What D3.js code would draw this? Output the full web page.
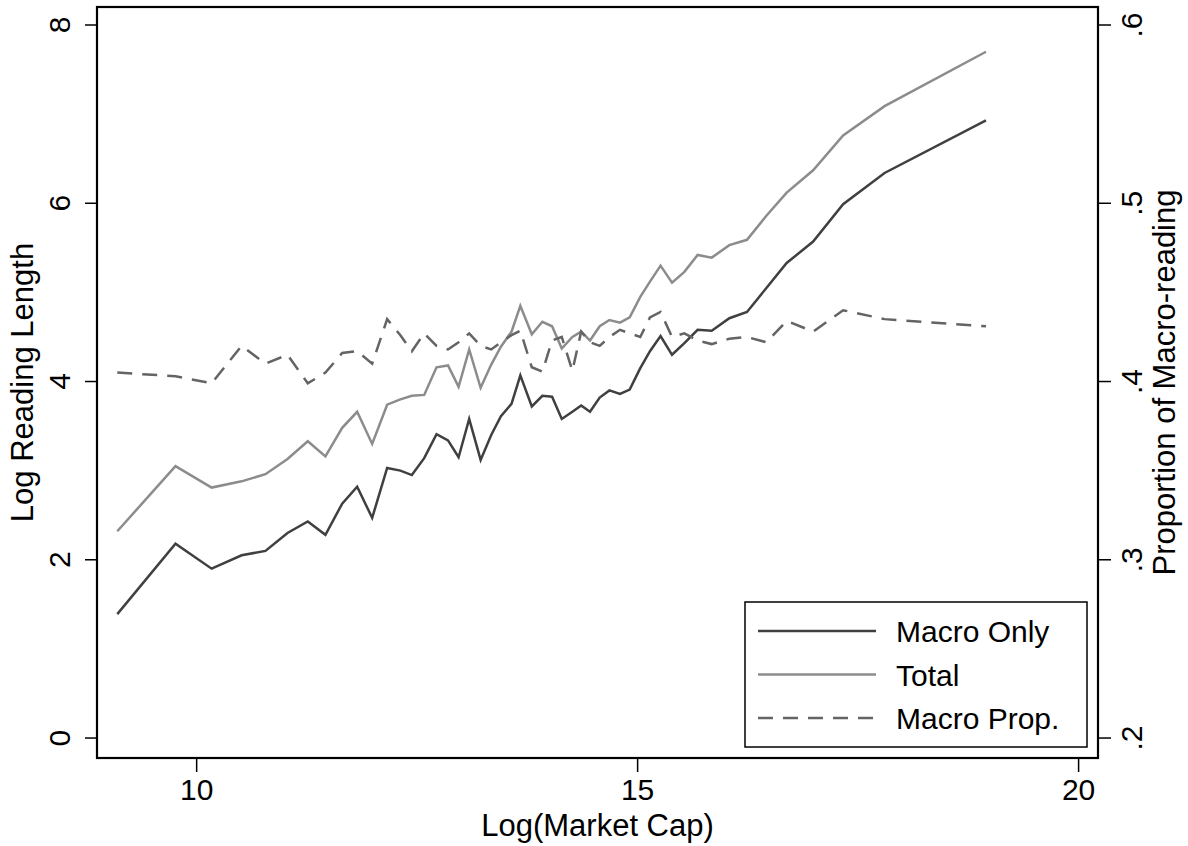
<!DOCTYPE html>
<html>
<head>
<meta charset="utf-8">
<script src="https://cdn.jsdelivr.net/npm/d3@7"></script>
<style>
  body { margin: 0; background: #fff; }
  text { font-family: "Liberation Sans", Arial, sans-serif; fill: #000; }
</style>
</head>
<body>
<script>
// log market cap bins
const logCap = [9.10, 9.76, 10.17, 10.51, 10.78, 11.03, 11.26, 11.46, 11.65, 11.82,
  11.99, 12.16, 12.31, 12.44, 12.58, 12.72, 12.85, 12.97, 13.09, 13.22,
  13.34, 13.45, 13.57, 13.67, 13.80, 13.92, 14.03, 14.14, 14.26, 14.36,
  14.46, 14.57, 14.68, 14.80, 14.91, 15.03, 15.14, 15.26, 15.39, 15.53,
  15.68, 15.84, 16.04, 16.24, 16.46, 16.69, 16.99, 17.33, 17.80, 18.95]

const macroOnly = [1.39, 2.18, 1.90, 2.05, 2.10, 2.30, 2.43, 2.28, 2.63, 2.82,
  2.47, 3.03, 3.00, 2.95, 3.14, 3.41, 3.34, 3.15, 3.58, 3.12,
  3.40, 3.61, 3.75, 4.07, 3.72, 3.84, 3.83, 3.58, 3.66, 3.73,
  3.66, 3.82, 3.90, 3.86, 3.91, 4.15, 4.34, 4.51, 4.30, 4.43,
  4.58, 4.57, 4.71, 4.78, 5.05, 5.33, 5.57, 5.99, 6.34, 6.93]

const total = [2.32, 3.05, 2.81, 2.88, 2.96, 3.13, 3.33, 3.16, 3.48, 3.66,
  3.30, 3.74, 3.80, 3.84, 3.85, 4.16, 4.18, 3.94, 4.36, 3.93,
  4.19, 4.39, 4.56, 4.85, 4.53, 4.67, 4.62, 4.37, 4.50, 4.56,
  4.46, 4.62, 4.69, 4.66, 4.72, 4.95, 5.12, 5.30, 5.11, 5.23,
  5.42, 5.39, 5.53, 5.59, 5.86, 6.12, 6.37, 6.76, 7.09, 7.70]

const macroProp = [0.405, 0.403, 0.399, 0.420, 0.410, 0.415, 0.399, 0.405, 0.416, 0.417,
  0.410, 0.435, 0.426, 0.417, 0.427, 0.420, 0.418, 0.422, 0.427, 0.420,
  0.418, 0.422, 0.426, 0.4285, 0.408, 0.4055, 0.423, 0.425, 0.406, 0.428,
  0.422, 0.420, 0.425, 0.429, 0.427, 0.425, 0.436, 0.439, 0.425, 0.427,
  0.423, 0.421, 0.424, 0.425, 0.422, 0.434, 0.428, 0.440, 0.435, 0.431]

const xTicks = [10, 15, 20]
const yTicks = [0, 2, 4, 6, 8]
const propTicks = [0.2, 0.3, 0.4, 0.5, 0.6]
const propLabels = ['.2', '.3', '.4', '.5', '.6']
const legendNames = ['Macro Only', 'Total', 'Macro Prop.']

const W = 1188, H = 846
const pLeft = 97, pRight = 1098, pTop = 7, pBottom = 758

const x = d3.scaleLinear().domain([8.87, 20.22]).range([pLeft, pRight])
const y = d3.scaleLinear().domain([-0.224, 8.202]).range([pBottom, pTop])
const y2 = d3.scaleLinear().domain([0.1888, 0.6101]).range([pBottom, pTop])

const svg = d3.select('body').append('svg').attr('width', W).attr('height', H)

const styles = [
  { color: '#404040', dash: null },
  { color: '#8c8c8c', dash: null },
  { color: '#646464', dash: '15,10' }
]

// lines
const line1 = d3.line().x((d, i) => x(logCap[i])).y(d => y(d))
const line2 = d3.line().x((d, i) => x(logCap[i])).y(d => y2(d))

svg.append('path').datum(macroOnly)
    .attr('d', line1)
    .attr('fill', 'none').attr('stroke', styles[0].color).attr('stroke-width', 2.5)
svg.append('path').datum(total)
    .attr('d', line1)
    .attr('fill', 'none').attr('stroke', styles[1].color).attr('stroke-width', 2.5)
svg.append('path').datum(macroProp)
    .attr('d', line2)
    .attr('fill', 'none').attr('stroke', styles[2].color).attr('stroke-width', 2.5)
    .attr('stroke-dasharray', styles[2].dash)

// frame
svg.append('rect')
    .attr('x', pLeft).attr('y', pTop)
    .attr('width', pRight - pLeft).attr('height', pBottom - pTop)
    .attr('fill', 'none').attr('stroke', '#000').attr('stroke-width', 2.2)

// x axis ticks
const xAxis = svg.append('g')
xAxis.selectAll('line').data(xTicks).enter().append('line')
    .attr('x1', d => x(d)).attr('x2', d => x(d))
    .attr('y1', pBottom).attr('y2', pBottom + 14)
    .attr('stroke', '#000').attr('stroke-width', 1.5)
xAxis.selectAll('text').data(xTicks).enter().append('text')
    .attr('x', d => x(d)).attr('y', 800)
    .attr('text-anchor', 'middle').attr('font-size', 30)
    .text(d => d)

// left y axis
const yAxis = svg.append('g')
yAxis.selectAll('line').data(yTicks).enter().append('line')
    .attr('x1', pLeft - 12).attr('x2', pLeft)
    .attr('y1', d => y(d)).attr('y2', d => y(d))
    .attr('stroke', '#000').attr('stroke-width', 1.5)
yAxis.selectAll('text').data(yTicks).enter().append('text')
    .attr('transform', d => 'translate(70,' + y(d) + ') rotate(-90)')
    .attr('text-anchor', 'middle').attr('font-size', 30)
    .text(d => d)

// right y axis
const y2Axis = svg.append('g')
y2Axis.selectAll('line').data(propTicks).enter().append('line')
    .attr('x1', pRight).attr('x2', pRight + 13)
    .attr('y1', d => y2(d)).attr('y2', d => y2(d))
    .attr('stroke', '#000').attr('stroke-width', 1.5)
y2Axis.selectAll('text').data(propTicks).enter().append('text')
    .attr('transform', d => 'translate(1142,' + y2(d) + ') rotate(-90)')
    .attr('text-anchor', 'middle').attr('font-size', 30)
    .text((d, i) => propLabels[i])

// titles
svg.append('text')
    .attr('x', (pLeft + pRight) / 2).attr('y', 836)
    .attr('text-anchor', 'middle').attr('font-size', 31)
    .text('Log(Market Cap)')
svg.append('text')
    .attr('transform', 'translate(33,' + (pTop + pBottom) / 2 + ') rotate(-90)')
    .attr('text-anchor', 'middle').attr('font-size', 31)
    .text('Log Reading Length')
svg.append('text')
    .attr('transform', 'translate(1175,' + (pTop + pBottom) / 2 + ') rotate(-90)')
    .attr('text-anchor', 'middle').attr('font-size', 31)
    .text('Proportion of Macro-reading')

// legend
const legend = svg.append('g').attr('transform', 'translate(745,602)')
legend.append('rect')
    .attr('width', 342).attr('height', 145)
    .attr('fill', '#fff').attr('stroke', '#000').attr('stroke-width', 1.5)
const rows = legend.selectAll('g.row').data(legendNames).enter().append('g')
    .attr('class', 'row')
    .attr('transform', (d, i) => 'translate(0,' + (29 + i * 43.5) + ')')
rows.append('line')
    .attr('x1', 13).attr('x2', 131)
    .attr('stroke', (d, i) => styles[i].color)
    .attr('stroke-width', 2.5)
    .attr('stroke-dasharray', (d, i) => styles[i].dash)
rows.append('text')
    .attr('x', 151).attr('y', 11)
    .attr('font-size', 30)
    .text(d => d)
</script>
</body>
</html>
